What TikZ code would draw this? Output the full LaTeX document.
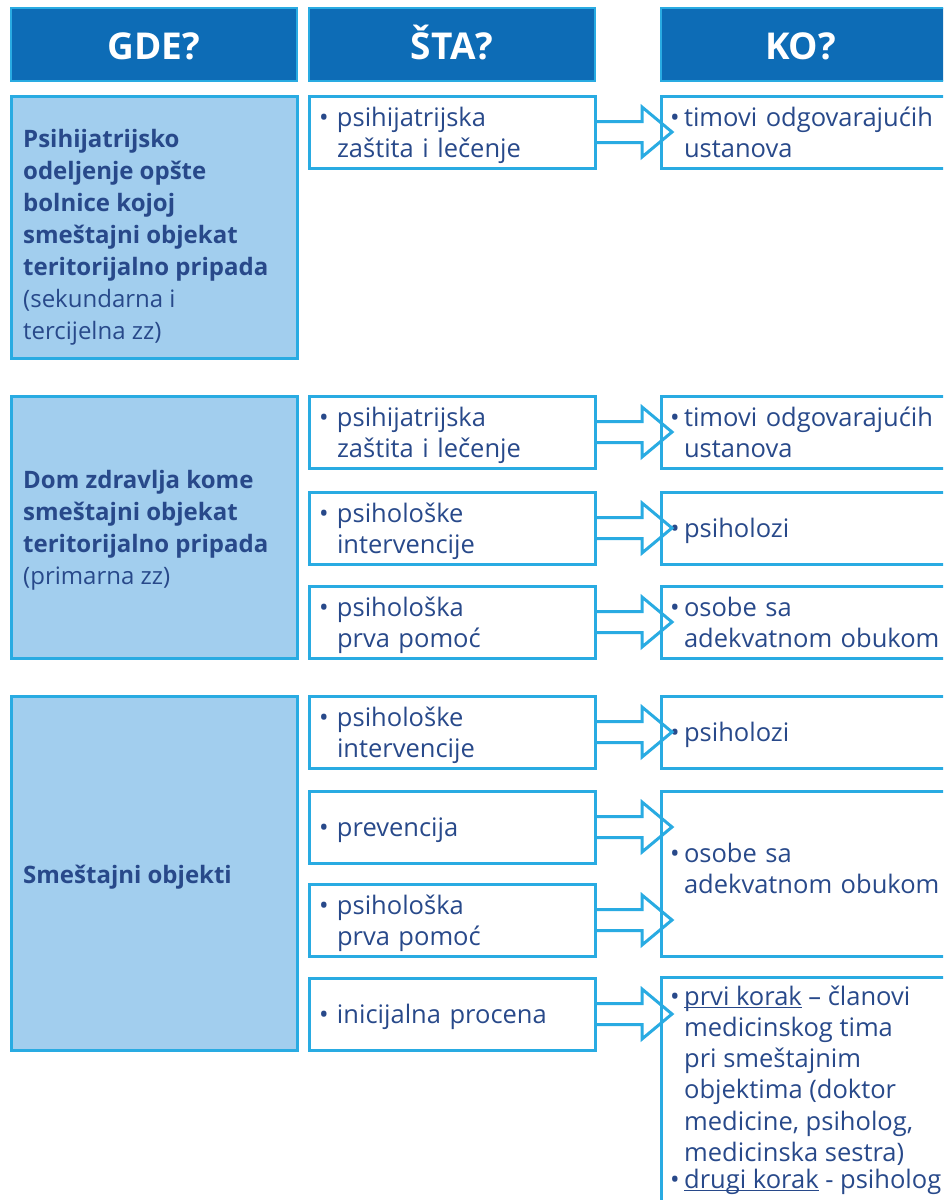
\documentclass[tikz,border=0pt]{standalone}
\usepackage{fontspec}
\setmainfont{Open Sans}
\usetikzlibrary{calc}
\definecolor{cy}{HTML}{29ABE2}
\definecolor{hd}{HTML}{0D6CB6}
\definecolor{lb}{HTML}{A2CEEE}
\definecolor{tx}{HTML}{28498A}
\newcommand{\bul}[2][18pt]{\noindent\makebox[#1][l]{•}\begin{tabular}[t]{@{}l@{}}\rule{0pt}{29.4pt}#2\end{tabular}}
\newcommand{\myul}[1]{\setbox0\hbox{#1}\rlap{\rule[-3pt]{\wd0}{1.3pt}}\box0\relax}
\newcommand{\blockarr}[2]{\draw[arr] ($(#1.east)+(0,-10.5)$) -- ++(47,0) -- ++(0,-14.5) -- ($(#2.west|-#1.east)+(11,0)$) -- ($(#1.east)+(47,25)$) -- ++(0,-14.5) -- ++(-47,0);}
\begin{document}
\begin{tikzpicture}[x=1pt,y=-1pt,
  box/.style={draw=cy,line width=3pt,outer sep=0pt,anchor=north west,text=tx,font=\fontsize{25.5}{31.5}\selectfont},
  mid/.style={box,minimum width=286pt,minimum height=72pt,inner xsep=10pt,inner ysep=0pt,text width=266pt,align=left},
  ko/.style={box,minimum width=299pt,minimum height=72pt,inner xsep=9pt,inner ysep=0pt,text width=281pt,align=left},
  gde/.style={box,fill=lb,minimum width=286pt},
  hdr/.style={draw=cy,fill=hd,line width=2.5pt,outer sep=0pt,anchor=north west,minimum height=73pt,text=white,font=\fontsize{37}{40}\selectfont\bfseries,text height=29.6pt,text depth=0pt},
  lt/.style={anchor=base west,inner sep=0pt,text=tx,font=\fontsize{24}{32}\selectfont},
  kt/.style={anchor=base west,inner sep=0pt,text=tx,font=\fontsize{25.5}{31.3}\selectfont},
  arr/.style={draw=cy,line width=3pt,line join=miter}]
\useasboundingbox (0,0) rectangle (943,1200);
\clip (0,0) rectangle (943,1200);
% headers
\node[hdr,minimum width=286pt] (h1) at (11,8) {GDE?};
\node[hdr,minimum width=286pt] (h2) at (309,8) {ŠTA?};
\node[hdr,minimum width=299pt] (h3) at (661,8) {\hspace*{-20pt}KO?};
% left boxes
\node[gde,minimum height=262pt] (l1) at (11,96) {};
\node[gde,minimum height=262pt] (l2) at (11,396) {};
\node[gde,minimum height=354pt] (l3) at (11,696) {};
\node[lt] (l1t) at (23,147) {\begin{tabular}[t]{@{}l@{}}\textbf{Psihijatrijsko}\\\textbf{odeljenje opšte}\\\textbf{bolnice kojoj}\\\textbf{smeštajni objekat}\\\textbf{teritorijalno pripada}\\(sekundarna i\\tercijelna zz)\end{tabular}};
\node[lt] (l2t) at (23,488) {\begin{tabular}[t]{@{}l@{}}\textbf{Dom zdravlja kome}\\\textbf{smeštajni objekat}\\\textbf{teritorijalno pripada}\\(primarna zz)\end{tabular}};
\node[lt] (l3t) at (23,883) {\textbf{Smeštajni objekti}};
% middle boxes
\node[mid] (m1) at (309,96) {\bul{psihijatrijska\\zaštita i lečenje}};
\node[mid] (m21) at (309,396) {\bul{psihijatrijska\\zaštita i lečenje}};
\node[mid] (m22) at (309,492) {\bul{psihološke\\intervencije}};
\node[mid] (m23) at (309,586) {\bul{psihološka\\prva pomoć}};
\node[mid] (m31) at (309,696) {\bul{psihološke\\intervencije}};
\node[mid] (m32) at (309,791) {\bul{prevencija}};
\node[mid] (m33) at (309,884) {\bul{psihološka\\prva pomoć}};
\node[mid] (m34) at (309,978) {\bul{inicijalna procena}};
% right boxes
\node[ko] (r1) at (661,96) {\bul[14pt]{timovi odgovarajućih\\ustanova}};
\node[ko] (r21) at (661,396) {\bul[14pt]{timovi odgovarajućih\\ustanova}};
\node[ko] (r22) at (661,492) {\bul[14pt]{psiholozi}};
\node[ko] (r23) at (661,586) {\bul[14pt]{osobe sa\\adekvatnom obukom}};
\node[ko] (r31) at (661,696) {\bul[14pt]{psiholozi}};
\node[ko,minimum height=165pt] (r32) at (661,791) {\bul[14pt]{osobe sa\\adekvatnom obukom\rule[-20.5pt]{0pt}{1pt}}};
\node[ko,minimum height=280pt] (r33) at (661,977) {};
\node[kt] (r33a) at (670,1005) {\makebox[14pt][l]{•}\begin{tabular}[t]{@{}l@{}}\myul{prvi korak} – članovi\\medicinskog tima\\pri smeštajnim\\objektima (doktor\\medicine, psiholog,\\medicinska sestra)\end{tabular}};
\node[kt] (r33b) at (670,1188) {\makebox[14pt][l]{•}\myul{drugi korak} - psiholog};
% arrows
\blockarr{m1}{r1}
\blockarr{m21}{r21}
\blockarr{m22}{r22}
\blockarr{m23}{r23}
\blockarr{m31}{r31}
\blockarr{m32}{r32}
\blockarr{m33}{r32}
\blockarr{m34}{r33}
\end{tikzpicture}
\end{document}
